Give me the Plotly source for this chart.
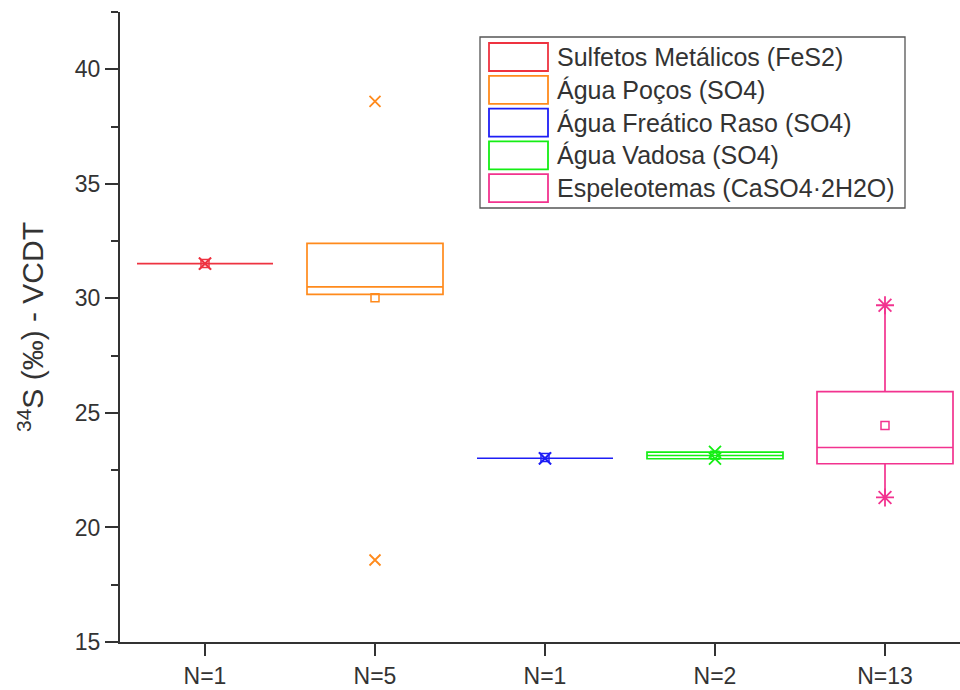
import plotly.graph_objects as go

# ---- data ----
groups = ["Sulfetos Metálicos (FeS2)", "Água Poços (SO4)", "Água Freático Raso (SO4)",
          "Água Vadosa (SO4)", "Espeleotemas (CaSO4·2H2O)"]
n_labels = ["N=1", "N=5", "N=1", "N=2", "N=13"]
positions = [1, 2, 3, 4, 5]
q1 = [31.52, 30.17, 23.02, 23.00, 22.78]
median = [31.52, 30.50, 23.02, 23.14, 23.49]
q3 = [31.52, 32.40, 23.02, 23.29, 25.93]
lower_whisker = [31.52, 30.17, 23.02, 23.00, 21.31]
upper_whisker = [31.52, 32.40, 23.02, 23.29, 29.70]
mean = [31.52, 30.03, 23.05, 23.15, 24.45]
minimum = [31.52, 18.58, 23.02, 23.00, 21.31]
maximum = [31.52, 38.60, 23.02, 23.30, 29.70]
y_ticks = [15, 20, 25, 30, 35, 40]

colors = ["#EE3340", "#FF8A1C", "#1E1EF5", "#14EE14", "#F2338F"]
minmax_symbols = ["x-thin-open", "x-thin-open", "x-thin-open", "x-thin-open", "asterisk-open"]
minmax_sizes = [12, 11, 12, 12, 15]

FONT = "Arial, Liberation Sans, sans-serif"
AXIS = "#333333"

fig = go.Figure()
for i in range(len(groups)):
    fig.add_trace(go.Box(
        x=[positions[i]], q1=[q1[i]], median=[median[i]], q3=[q3[i]],
        lowerfence=[lower_whisker[i]], upperfence=[upper_whisker[i]],
        name=groups[i], width=0.8, whiskerwidth=0,
        line=dict(color=colors[i], width=1.7), fillcolor="rgba(0,0,0,0)",
        showlegend=False, hoverinfo="skip"))
    fig.add_trace(go.Scatter(
        x=[positions[i], positions[i]], y=[minimum[i], maximum[i]], mode="markers",
        marker=dict(symbol=minmax_symbols[i], size=minmax_sizes[i], color=colors[i],
                    line=dict(color=colors[i], width=1.8)),
        showlegend=False, hoverinfo="skip"))
    fig.add_trace(go.Scatter(
        x=[positions[i]], y=[mean[i]], mode="markers",
        marker=dict(symbol="square-open", size=8, color=colors[i],
                    line=dict(color=colors[i], width=1.5)),
        showlegend=False, hoverinfo="skip"))

W, H = 960, 690
ML, MR, MT, MB = 120, 0, 12, 48
pw, ph = W - ML - MR, H - MT - MB

def px_x(p):
    return (p - ML) / pw

def px_y(p):
    return (H - MB - p) / ph

# manual legend (large outlined swatches like the original)
fig.add_shape(type="rect", xref="paper", yref="paper",
              x0=px_x(480), x1=px_x(905), y0=px_y(208), y1=px_y(37),
              line=dict(color="#555555", width=1.3), fillcolor="white", layer="above")
for i, g in enumerate(groups):
    top = 43 + i * 32.8
    fig.add_shape(type="rect", xref="paper", yref="paper",
                  x0=px_x(489), x1=px_x(548), y0=px_y(top + 28), y1=px_y(top),
                  line=dict(color=colors[i], width=1.8), layer="above")
    fig.add_annotation(xref="paper", yref="paper", x=px_x(555), y=px_y(top + 14),
                       text=g, showarrow=False, xanchor="left", yanchor="middle",
                       font=dict(family=FONT, size=25, color="#333333"))

fig.update_layout(
    width=W, height=H, margin=dict(l=ML, r=MR, t=MT, b=MB),
    paper_bgcolor="white", plot_bgcolor="white", boxmode="overlay",
    font=dict(family=FONT, color=AXIS),
    xaxis=dict(range=[0.5, 0.5 + pw / 170.0], tickvals=positions, ticktext=n_labels,
               showgrid=False, zeroline=False, showline=True, linecolor=AXIS, linewidth=2,
               ticks="outside", ticklen=12, tickwidth=2, tickcolor=AXIS,
               tickfont=dict(family=FONT, size=23, color=AXIS)),
    yaxis=dict(range=[15, 42.5], tickvals=y_ticks, showgrid=False, zeroline=False,
               showline=True, linecolor=AXIS, linewidth=2,
               ticks="outside", ticklen=13, tickwidth=2, tickcolor=AXIS,
               tickfont=dict(family=FONT, size=23, color=AXIS),
               minor=dict(dtick=2.5, tick0=15, ticks="outside", ticklen=7, tickwidth=2,
                          tickcolor=AXIS, showgrid=False),
               title=dict(text="<sup>34</sup>S (‰) - VCDT", standoff=22,
                          font=dict(family=FONT, size=30, color=AXIS))),
)

fig.write_html("out.html")
